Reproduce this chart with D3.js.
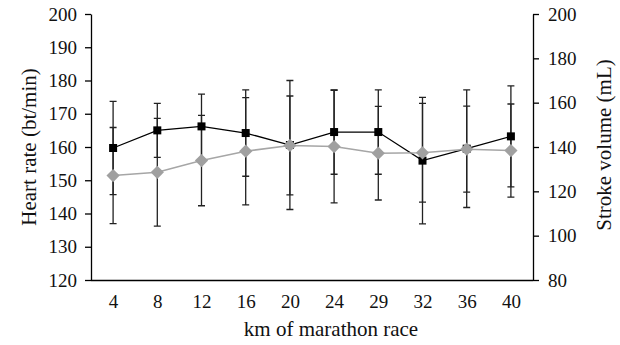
<!DOCTYPE html>
<html>
<head>
    <meta charset="utf-8">
    <title>Heart rate and stroke volume</title>
    <style>
        body { margin: 0; background: #fff; }
        svg { display: block; }
        .axis .domain { stroke: #000; stroke-width: 1.3; }
        .axis .tick line { stroke: #000; stroke-width: 1.3; }
        .axis .tick text { fill: #111; }
        .axis-label { fill: #111; }
    </style>
</head>
<body>
<svg width="620" height="345"></svg>
<script src="https://d3js.org/d3.v7.min.js"></script>
<script>
    // km of the race
    let km = ['4', '8', '12', '16', '20', '24', '29', '32', '36', '40'];

    // heart rate (bt/min), mean and sd
    let heartRate = [159.7, 165.0, 166.2, 164.2, 160.6, 164.5, 164.5, 155.9, 159.5, 163.2];
    let heartRateSd = [14.0, 8.1, 9.7, 13.0, 19.4, 12.7, 12.7, 19.0, 17.7, 15.2];

    // stroke volume (mL), mean and sd
    let strokeVol = [127.1, 128.6, 133.9, 138.1, 140.7, 140.2, 137.2, 137.4, 139.0, 138.4];
    let strokeVolSd = [21.7, 24.3, 20.4, 24.2, 22.3, 25.4, 21.1, 22.3, 19.4, 21.0];

    let hrTicks = [120, 130, 140, 150, 160, 170, 180, 190, 200];
    let svTicks = [80, 100, 120, 140, 160, 180, 200];

    let width = 620;
    let height = 345;
    let margin = { top: 14, right: 87, bottom: 65, left: 91 };
    let serif = '"Liberation Serif", "Times New Roman", serif';

    let svg = d3.select('svg');

    let x = d3.scalePoint()
        .domain(km)
        .range([margin.left, width - margin.right])
        .padding(0.5);

    let yHr = d3.scaleLinear()
        .domain([120, 200])
        .range([height - margin.bottom, margin.top]);

    let ySv = d3.scaleLinear()
        .domain([80, 200])
        .range([height - margin.bottom, margin.top]);

    // axes
    svg.append('g')
        .attr('class', 'x axis')
        .attr('transform', `translate(0,${height - margin.bottom})`)
        .call(d3.axisBottom(x).tickSize(0).tickPadding(15))
        .style('font-family', serif)
        .style('font-size', '19px')
        .call(g => g.select('.domain').attr('d', `M${margin.left},0.5H${width - margin.right}`));

    svg.append('g')
        .attr('class', 'y axis')
        .attr('transform', `translate(${margin.left},0)`)
        .call(d3.axisLeft(yHr).tickValues(hrTicks).tickSize(6).tickSizeOuter(0).tickPadding(8))
        .style('font-family', serif)
        .style('font-size', '19px');

    svg.append('g')
        .attr('class', 'y2 axis')
        .attr('transform', `translate(${width - margin.right},0)`)
        .call(d3.axisRight(ySv).tickValues(svTicks).tickSize(6).tickSizeOuter(0).tickPadding(9))
        .style('font-family', serif)
        .style('font-size', '19px');

    // error bars (both series)
    let capW = 3.5;
    function errorBars(means, sds, y, cls) {
        let g = svg.append('g').attr('class', cls)
            .attr('stroke', '#222').attr('stroke-width', 1.3).attr('fill', 'none');
        g.selectAll('path')
            .data(km)
            .join('path')
            .attr('d', (d, i) => {
                let cx = x(d);
                let top = y(means[i] + sds[i]);
                let bot = y(means[i] - sds[i]);
                return `M${cx},${top}V${bot}M${cx - capW},${top}H${cx + capW}M${cx - capW},${bot}H${cx + capW}`;
            });
    }
    errorBars(heartRate, heartRateSd, yHr, 'hr-err');
    errorBars(strokeVol, strokeVolSd, ySv, 'sv-err');

    // heart rate line + squares
    let hrLine = d3.line()
        .x((d, i) => x(km[i]))
        .y(d => yHr(d));

    svg.append('path')
        .datum(heartRate)
        .attr('fill', 'none')
        .attr('stroke', '#000')
        .attr('stroke-width', 1.3)
        .attr('d', hrLine);

    svg.append('g')
        .selectAll('rect')
        .data(heartRate)
        .join('rect')
        .attr('x', (d, i) => x(km[i]) - 4)
        .attr('y', d => yHr(d) - 4)
        .attr('width', 8)
        .attr('height', 8)
        .attr('fill', '#000');

    // stroke volume line + diamonds
    let svLine = d3.line()
        .x((d, i) => x(km[i]))
        .y(d => ySv(d));

    svg.append('path')
        .datum(strokeVol)
        .attr('fill', 'none')
        .attr('stroke', '#a6a6a6')
        .attr('stroke-width', 1.5)
        .attr('d', svLine);

    let diamond = d3.symbol().type(d3.symbolDiamond2).size(112);

    svg.append('g')
        .selectAll('path')
        .data(strokeVol)
        .join('path')
        .attr('transform', (d, i) => `translate(${x(km[i])},${ySv(d)})`)
        .attr('d', diamond)
        .attr('fill', '#a0a0a0');

    // axis labels
    let labelStyle = sel => sel
        .attr('class', 'axis-label')
        .attr('text-anchor', 'middle')
        .style('font-family', serif)
        .style('font-size', '21px');

    svg.append('text')
        .call(labelStyle)
        .attr('x', 331)
        .attr('y', 336)
        .text('km of marathon race');

    svg.append('text')
        .call(labelStyle)
        .attr('transform', `translate(36,${(margin.top + height - margin.bottom) / 2}) rotate(-90)`)
        .text('Heart rate (bt/min)');

    svg.append('text')
        .call(labelStyle)
        .attr('transform', `translate(611,145) rotate(-90)`)
        .text('Stroke volume (mL)');
</script>
</body>
</html>
